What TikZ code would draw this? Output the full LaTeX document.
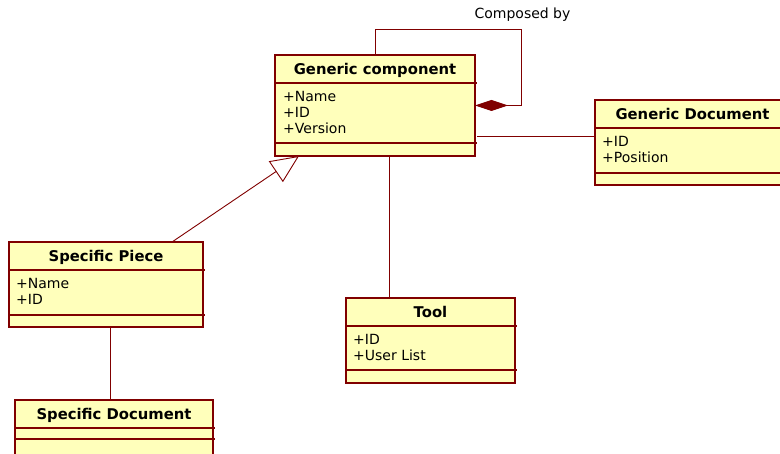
\documentclass[tikz,border=0pt]{standalone}
\usepackage{fontspec}
\setmainfont{DejaVu Sans}
\usetikzlibrary{arrows.meta,calc}
\definecolor{umlline}{RGB}{128,0,0}
\definecolor{umlfill}{RGB}{255,255,187}
\begin{document}
\begin{tikzpicture}[x=1pt,y=-1pt,
  classbox/.style={draw=umlline, fill=umlfill, line width=1.1pt, anchor=north west, inner sep=0pt, outer sep=0pt},
  sep/.style={draw=umlline, line width=1.1pt},
  classtitle/.style={font=\fontsize{14.8}{16}\selectfont\bfseries, anchor=base, inner sep=0pt},
  attr/.style={font=\fontsize{14}{16}\selectfont, anchor=base west, inner sep=0pt},
  assoc/.style={draw=umlline, line width=0.9pt},
  lbl/.style={font=\fontsize{14}{16}\selectfont, anchor=base, inner sep=0pt},
]
\useasboundingbox (0,0) rectangle (780,454);
\clip (0,0) rectangle (780,454);

% ---- Generic component ----
\node[classbox, minimum width=200pt, minimum height=101pt] (gc) at (275,55) {};
\draw[sep] ($(gc.north west)+(0,28)$) -- ++(202,0);
\draw[sep] ($(gc.north west)+(0,88)$) -- ++(202,0);
\node[classtitle] (gc-t) at ($(gc.north)+(0,19.5)$) {Generic component};
\node[attr] (gc-a1) at ($(gc.north west)+(8,47)$) {+Name};
\node[attr] (gc-a2) at ($(gc.north west)+(8,63)$) {+ID};
\node[attr] (gc-a3) at ($(gc.north west)+(8,79)$) {+Version};

% ---- Generic Document ----
\node[classbox, minimum width=195pt, minimum height=85pt] (gd) at (595,100) {};
\draw[sep] ($(gd.north west)+(0,28)$) -- ++(197,0);
\draw[sep] ($(gd.north west)+(0,73)$) -- ++(197,0);
\node[classtitle] (gd-t) at ($(gd.north)+(0,19.5)$) {Generic Document};
\node[attr] (gd-a1) at ($(gd.north west)+(7,47)$) {+ID};
\node[attr] (gd-a2) at ($(gd.north west)+(7,63)$) {+Position};

% ---- Specific Piece ----
\node[classbox, minimum width=194pt, minimum height=85pt] (sp) at (9,242) {};
\draw[sep] ($(sp.north west)+(0,28)$) -- ++(196,0);
\draw[sep] ($(sp.north west)+(0,73)$) -- ++(196,0);
\node[classtitle] (sp-t) at ($(sp.north)+(0,19.5)$) {Specific Piece};
\node[attr] (sp-a1) at ($(sp.north west)+(7,47)$) {+Name};
\node[attr] (sp-a2) at ($(sp.north west)+(7,63)$) {+ID};

% ---- Tool ----
\node[classbox, minimum width=169pt, minimum height=85pt] (tool) at (346,298) {};
\draw[sep] ($(tool.north west)+(0,28)$) -- ++(171,0);
\draw[sep] ($(tool.north west)+(0,72)$) -- ++(171,0);
\node[classtitle] (tool-t) at ($(tool.north)+(0,19.5)$) {Tool};
\node[attr] (tool-a1) at ($(tool.north west)+(7,47)$) {+ID};
\node[attr] (tool-a2) at ($(tool.north west)+(7,63)$) {+User List};

% ---- Specific Document ----
\node[classbox, minimum width=198pt, minimum height=62pt] (sd) at (15,400) {};
\draw[sep] ($(sd.north west)+(0,28)$) -- ++(200,0);
\draw[sep] ($(sd.north west)+(0,39)$) -- ++(200,0);
\node[classtitle] (sd-t) at ($(sd.north)+(0,19.5)$) {Specific Document};

% ---- Connectors ----
% self composition loop
\coordinate (loopcorner) at (521,29);
\draw[assoc, -{Diamond[length=33pt,width=11pt,fill=umlline]}] (gc.north) |- (loopcorner) |- (gc.east);
\node[lbl] (loop-l) at (522.5,19) {Composed by};

% association to Generic Document
\coordinate (gcr) at ($(gc.north east)+(2,81)$);
\draw[assoc] (gcr) -- (gcr -| gd.west);

% generalization
\coordinate (gentip) at ($(gc.south west)+(24,0)$);
\coordinate (spt) at ($(sp.north west)+(163,0)$);
\draw[assoc, -{Triangle[open,length=28pt,width=25pt,fill=white]}] (spt) -- (gentip);

% association to Tool
\coordinate (gcb) at ($(gc.south west)+(114,0)$);
\draw[assoc] (gcb) -- (gcb |- tool.north);

% association to Specific Document
\coordinate (spb) at ($(sp.south west)+(101,0)$);
\draw[assoc] (spb) -- (spb |- sd.north);
\end{tikzpicture}
\end{document}
